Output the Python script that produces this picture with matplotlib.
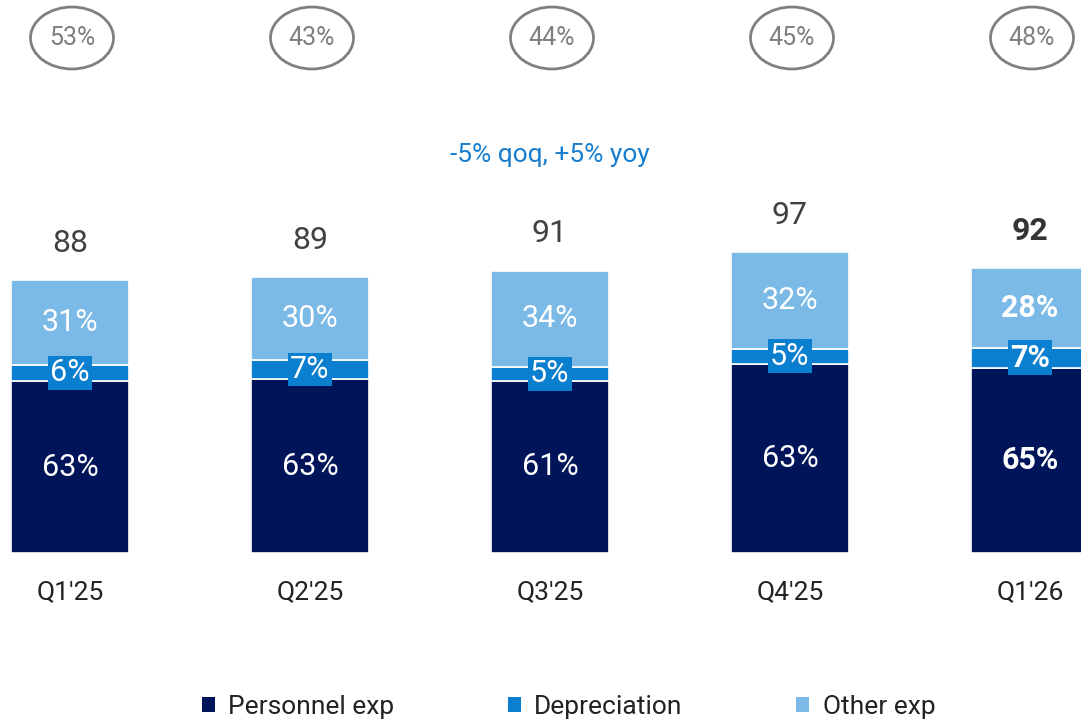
import matplotlib
matplotlib.use("Agg")
import matplotlib.pyplot as plt
from matplotlib.patches import Ellipse, Patch

plt.rcParams['font.family'] = ['Roboto', 'DejaVu Sans']

# data
quarters = ["Q1'25", "Q2'25", "Q3'25", "Q4'25", "Q1'26"]
totals = [88, 89, 91, 97, 92]
personnel_pct = [63, 63, 61, 63, 65]
depreciation_pct = [6, 7, 5, 5, 7]
other_pct = [31, 30, 34, 32, 28]
ratio_labels = ["53%", "43%", "44%", "45%", "48%"]
growth_note = "-5% qoq, +5% yoy"
series_names = ["Personnel exp", "Depreciation", "Other exp"]

c_pers = "#001459"
c_dep = "#0a7ecf"
c_oth = "#7bb9e6"
c_gray = "#7f7f7f"

W, H = 1081, 723
fig = plt.figure(figsize=(W / 100, H / 100), dpi=100)
ax = fig.add_axes([0, 0, 1, 1])

# pixel mapping: bar i centred at 70 + 240*i px, baseline at 553 px from top, 3.1 px per unit
px_x = 240.0
px_y = 3.1
ax.set_xlim(-70 / px_x, (W - 70) / px_x)
ax.set_ylim(-(H - 553) / px_y, 553 / px_y)
ax.axis("off")

x = list(range(len(quarters)))
pers = [t * p / 100 for t, p in zip(totals, personnel_pct)]
dep = [t * p / 100 for t, p in zip(totals, depreciation_pct)]
oth = [t * p / 100 for t, p in zip(totals, other_pct)]
dep_bottom = pers
oth_bottom = [a + b for a, b in zip(pers, dep)]

bw = 118 / px_x
ax.bar(x, pers, width=bw, color=c_pers, edgecolor="white", linewidth=1.2)
ax.bar(x, dep, width=bw, bottom=dep_bottom, color=c_dep, edgecolor="white", linewidth=1.2)
ax.bar(x, oth, width=bw, bottom=oth_bottom, color=c_oth, edgecolor="white", linewidth=1.2)

last = len(quarters) - 1
for i in x:
    bold = "bold" if i == last else "normal"
    ax.text(i, pers[i] / 2, f"{personnel_pct[i]}%", ha="center", va="center",
            color="white", fontsize=22, fontweight=bold)
    ax.text(i, dep_bottom[i] + dep[i] / 2, f"{depreciation_pct[i]}%", ha="center", va="center",
            color="white", fontsize=22, fontweight=bold,
            bbox=dict(boxstyle="square,pad=0.08", facecolor=c_dep, edgecolor="none"))
    ax.text(i, oth_bottom[i] + oth[i] / 2, f"{other_pct[i]}%", ha="center", va="center",
            color="white", fontsize=22, fontweight=bold)
    ax.text(i, totals[i] + 37 / px_y, str(totals[i]), ha="center", va="center",
            color="#333333" if i == last else "#404040", fontsize=23, fontweight=bold)
    ax.text(i, -39 / px_y, quarters[i], ha="center", va="center",
            color="#222222", fontsize=19)
    # ratio ellipse at top
    ey = (553 - 38) / px_y
    ax.add_patch(Ellipse((i + 2 / px_x, ey), 83 / px_x, 62 / px_y, facecolor="none",
                         edgecolor=c_gray, linewidth=2.0))
    ax.text(i + 2 / px_x, ey, ratio_labels[i], ha="center", va="center",
            color=c_gray, fontsize=18)

ax.text(2, (553 - 155) / px_y, growth_note, ha="center", va="center", color="#1a7ecf", fontsize=19)

handles = [Patch(facecolor=c) for c in (c_pers, c_dep, c_oth)]
leg = ax.legend(handles, series_names, loc="center", bbox_to_anchor=(0.526, 1 - 707 / H),
                ncol=3, frameon=False, fontsize=19, handlelength=0.5, handleheight=0.5,
                handletextpad=0.5, columnspacing=4.3)
for t in leg.get_texts():
    t.set_color("#222222")

fig.savefig("out.png", dpi=100)
